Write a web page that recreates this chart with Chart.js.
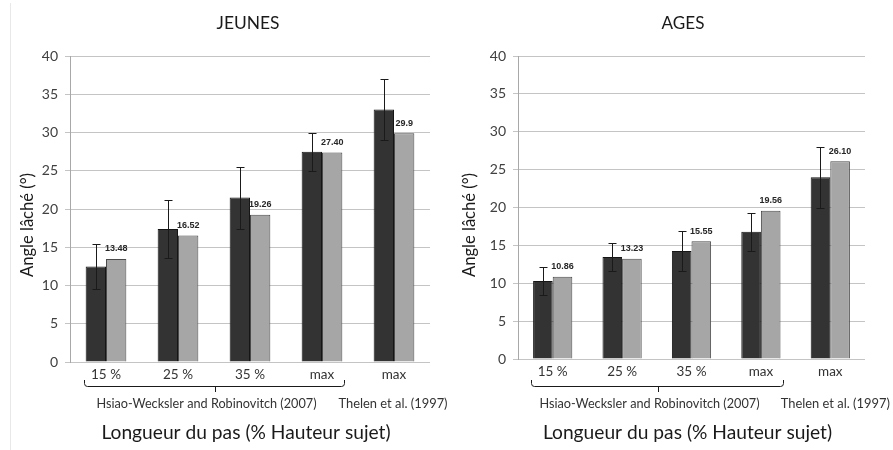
<!DOCTYPE html>
<html>
<head>
<meta charset="utf-8">
<script src="https://cdn.jsdelivr.net/npm/chart.js@4.4.1/dist/chart.umd.min.js"></script>
<style>
  body { margin: 0; background: #fff; width: 893px; height: 450px; overflow: hidden; position: relative; }
  #edge { position: absolute; left: 10px; top: 3px; width: 1px; height: 447px; background: #e8e8e8; }
  #jeunes { position: absolute; left: 0; top: 0; }
  #ages { position: absolute; left: 446px; top: 0; }
</style>
</head>
<body>
<div id="edge"></div>
<canvas id="jeunes" width="460" height="450"></canvas>
<canvas id="ages" width="447" height="450"></canvas>
<script>
// Data
const categories = ['15 %', '25 %', '35 %', 'max', 'max'];
const sources = ['Hsiao-Wecksler and Robinovitch (2007)', 'Thelen et al. (1997)'];

const jeunesMesure = [12.5, 17.4, 21.5, 27.5, 33.0];
const jeunesErreur = [2.9, 3.8, 4.05, 2.5, 4.0];
const jeunesLitterature = [13.48, 16.52, 19.26, 27.40, 29.9];
const jeunesEtiquettes = ['13.48', '16.52', '19.26', '27.40', '29.9'];

const agesMesure = [10.3, 13.45, 14.25, 16.8, 24.0];
const agesErreur = [1.8, 1.8, 2.65, 2.5, 4.0];
const agesLitterature = [10.86, 13.23, 15.55, 19.56, 26.10];
const agesEtiquettes = ['10.86', '13.23', '15.55', '19.56', '26.10'];

const yMin = 0, yMax = 40, yStep = 5;

const FONT = 'Lato';

// pick a font size so that the text spans roughly the width seen in the figure
function fitFont(ctx, text, width, weight) {
  ctx.font = weight + ' 100px ' + FONT;
  const size = 100 * width / ctx.measureText(text).width;
  return weight + ' ' + size.toFixed(1) + 'px ' + FONT;
}

// error bars, value labels, titles and the source bracket
const decor = {
  id: 'decor',
  afterDatasetsDraw(chart, args, opts) {
    const ctx = chart.ctx;
    const y = chart.scales.y;
    const meas = chart.getDatasetMeta(0);
    ctx.save();
    ctx.strokeStyle = '#1a1a1a';
    ctx.lineWidth = 1;
    meas.data.forEach((bar, i) => {
      const v = chart.data.datasets[0].data[i];
      const e = opts.errors[i];
      const x = Math.round(bar.x) + 0.5;
      const t = Math.round(y.getPixelForValue(v + e)) + 0.5;
      const b = Math.round(y.getPixelForValue(v - e)) + 0.5;
      ctx.beginPath();
      ctx.moveTo(x, t); ctx.lineTo(x, b);
      ctx.moveTo(x - 4, t); ctx.lineTo(x + 4, t);
      ctx.moveTo(x - 4, b); ctx.lineTo(x + 4, b);
      ctx.stroke();
    });
    const lit = chart.getDatasetMeta(1);
    ctx.fillStyle = '#262626';
    ctx.font = 'bold 9px "Liberation Sans"';
    ctx.textAlign = 'center';
    ctx.textBaseline = 'middle';
    lit.data.forEach((bar, i) => ctx.fillText(opts.labels[i], bar.x, bar.y - 10));
    ctx.restore();
  },
  afterDraw(chart, args, opts) {
    const ctx = chart.ctx;
    const xs = chart.scales.x;
    const area = chart.chartArea;
    ctx.save();
    ctx.fillStyle = '#1a1a1a';
    ctx.textAlign = 'center';
    ctx.textBaseline = 'middle';

    // chart title
    ctx.font = fitFont(ctx, opts.title, opts.titleWidth, '');
    ctx.fillText(opts.title, opts.titleX, 23);

    // y axis title
    const yTitle = 'Angle lâché (°)';
    ctx.save();
    ctx.translate(opts.yTitleX, 225);
    ctx.rotate(-Math.PI / 2);
    ctx.font = fitFont(ctx, yTitle, 104, '');
    ctx.fillText(yTitle, 0, 0);
    ctx.restore();

    // bracket under the first four groups
    const x0 = Math.round(xs.getPixelForValue(0) - 22) + 0.5;
    const x1 = Math.round(xs.getPixelForValue(3) + 22) + 0.5;
    const xm = Math.round((x0 + x1) / 2) + 0.5;
    const top = 380, base = 386.5, r = 3;
    ctx.strokeStyle = '#1a1a1a';
    ctx.lineWidth = 1;
    ctx.beginPath();
    ctx.moveTo(x0, top);
    ctx.arcTo(x0, base, x0 + r, base, r);
    ctx.lineTo(x1 - r, base);
    ctx.arcTo(x1, base, x1, top, r);
    ctx.lineTo(x1, top);
    ctx.moveTo(xm, base);
    ctx.lineTo(xm, 392);
    ctx.stroke();

    // sources
    ctx.fillStyle = '#333';
    ctx.font = fitFont(ctx, sources[0], 221, '');
    ctx.fillText(sources[0], xm - 9, 404);
    ctx.font = fitFont(ctx, sources[1], 109, '');
    ctx.fillText(sources[1], xs.getPixelForValue(4) + opts.thelenShift, 404);

    // x axis title
    const xTitle = 'Longueur du pas (% Hauteur sujet)';
    ctx.fillStyle = '#1a1a1a';
    ctx.font = fitFont(ctx, xTitle, 289, '');
    ctx.fillText(xTitle, (area.left + area.right) / 2 - 4, 433);
    ctx.restore();
  }
};

function makeChart(id, mesure, litterature, erreurs, etiquettes, layout) {
  return new Chart(document.getElementById(id), {
    type: 'bar',
    data: {
      labels: categories,
      datasets: [
        {
          label: 'Mesure',
          data: mesure,
          backgroundColor: '#333333',
          borderColor: '#151515',
          borderWidth: 1,
          barPercentage: 1,
          categoryPercentage: 0.565
        },
        {
          label: 'Littérature',
          data: litterature,
          backgroundColor: '#a6a6a6',
          borderColor: '#4a4a4a',
          borderWidth: 1,
          barPercentage: 1,
          categoryPercentage: 0.565
        }
      ]
    },
    options: {
      responsive: false,
      animation: false,
      events: [],
      layout: {
        autoPadding: false,
        padding: { top: 56, right: layout.right, left: 0, bottom: 0 }
      },
      plugins: {
        legend: { display: false },
        tooltip: { enabled: false },
        decor: {
          title: layout.title,
          titleX: layout.titleX,
          titleWidth: layout.titleWidth,
          yTitleX: layout.yTitleX,
          thelenShift: layout.thelenShift,
          errors: erreurs,
          labels: etiquettes
        }
      },
      scales: {
        x: {
          afterFit: s => { s.height = layout.xHeight; },
          grid: { display: false, drawTicks: false },
          border: { display: false },
          ticks: { color: '#333', font: { family: FONT, size: 13.5 }, padding: 5 }
        },
        y: {
          min: yMin,
          max: yMax,
          afterFit: s => { s.width = layout.yWidth; },
          grid: { color: '#c4c4c4', tickLength: 5, lineWidth: 1 },
          border: { display: true, color: '#a8a8a8' },
          ticks: {
            stepSize: yStep,
            color: '#404040',
            padding: 7,
            font: { family: FONT, size: 14 }
          }
        }
      }
    },
    plugins: [decor]
  });
}

makeChart('jeunes', jeunesMesure, jeunesLitterature, jeunesErreur, jeunesEtiquettes, {
  title: 'JEUNES', titleX: 248, titleWidth: 63, yTitleX: 28, thelenShift: -1,
  right: 30, yWidth: 70, xHeight: 88
});
makeChart('ages', agesMesure, agesLitterature, agesErreur, agesEtiquettes, {
  title: 'AGES', titleX: 237, titleWidth: 43, yTitleX: 24, thelenShift: 5,
  right: 28, yWidth: 72, xHeight: 91
});
</script>
</body>
</html>
